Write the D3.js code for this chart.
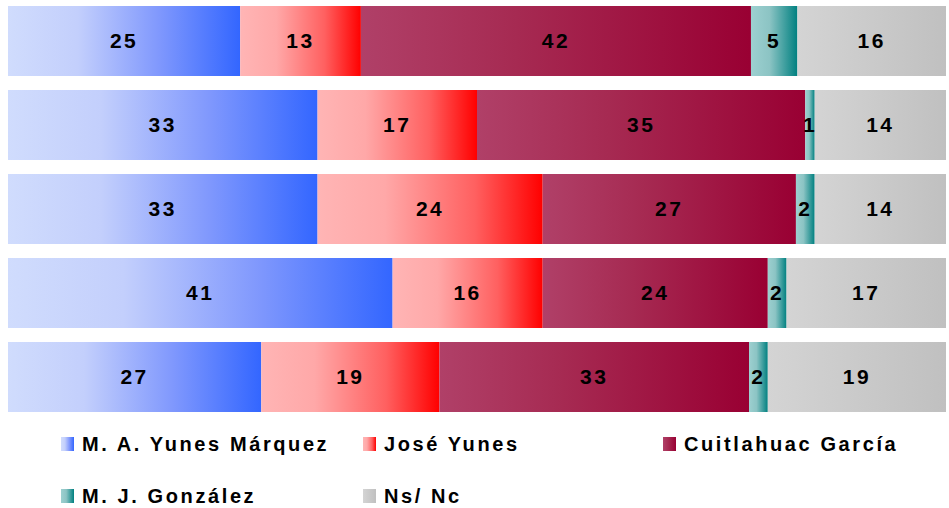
<!DOCTYPE html>
<html>
<head>
<meta charset="utf-8">
<script src="https://cdn.jsdelivr.net/npm/d3@7/dist/d3.min.js"></script>
<style>
  html, body { margin: 0; padding: 0; background: #fff; }
  svg { display: block; }
  text { font-family: "Liberation Sans", Arial, sans-serif; font-weight: bold; fill: #000; }
</style>
</head>
<body>
<svg id="chart" width="949" height="508"></svg>
<script>
// ---- data ----
const categories = ["1", "2", "3", "4", "5"];
const seriesNames = ["M. A. Yunes Márquez", "José Yunes", "Cuitlahuac García", "M. J. González", "Ns/ Nc"];
const yunesMarquez = [25, 33, 33, 41, 27];
const joseYunes    = [13, 17, 24, 16, 19];
const cuitlahuac   = [42, 35, 27, 24, 33];
const gonzalez     = [5, 1, 2, 2, 2];
const nsnc         = [16, 14, 14, 17, 19];

const seriesValues = [yunesMarquez, joseYunes, cuitlahuac, gonzalez, nsnc];
const keys = ["s0", "s1", "s2", "s3", "s4"];

// gradient stops per series (light -> dark, left to right)
const gradStops = [
  [[0, "#d0dcfd"], [0.3, "#c3cffc"], [0.65, "#8098fd"], [1, "#3366ff"]],
  [[0, "#ffb5b5"], [0.3, "#ffa8a8"], [0.7, "#ff6060"], [1, "#ff0000"]],
  [[0, "#b04068"], [0.4, "#a62a52"], [1, "#990033"]],
  [[0, "#9dd0d0"], [0.4, "#8cc4c4"], [1, "#008080"]],
  [[0, "#d4d4d4"], [1, "#c0c0c0"]]
];

// ---- build table ----
const table = categories.map((c, i) => {
  const row = { cat: c };
  const total = d3.sum(seriesValues, s => s[i]);
  keys.forEach((k, j) => { row[k] = seriesValues[j][i] / total; row[k + "_v"] = seriesValues[j][i]; });
  return row;
});

const svg = d3.select("#chart");
const defs = svg.append("defs");
gradStops.forEach((stops, j) => {
  const g = defs.append("linearGradient").attr("id", "g" + j)
    .attr("x1", "0").attr("x2", "1").attr("y1", "0").attr("y2", "0");
  stops.forEach(s => g.append("stop").attr("offset", s[0]).attr("stop-color", s[1]));
});

const x = d3.scaleLinear().domain([0, 1]).range([8, 946]);
const y = d3.scaleBand().domain(categories).range([6, 412]).paddingInner(14 / 84).paddingOuter(0);

const stack = d3.stack().keys(keys);
const stacked = stack(table);

const layers = svg.append("g").selectAll("g").data(stacked).join("g")
  .attr("fill", (d, j) => `url(#g${j})`);

layers.selectAll("rect").data(d => d.map(p => ({ p, key: d.key }))).join("rect")
  .attr("x", d => x(d.p[0]))
  .attr("width", d => x(d.p[1]) - x(d.p[0]))
  .attr("y", d => y(d.p.data.cat))
  .attr("height", y.bandwidth());

const labels = svg.append("g");
stacked.forEach((layer, j) => {
  layer.forEach(p => {
    labels.append("text")
      .attr("x", (x(p[0]) + x(p[1])) / 2)
      .attr("y", y(p.data.cat) + y.bandwidth() / 2)
      .attr("dy", "0.35em")
      .attr("text-anchor", "middle")
      .style("font-size", "21px")
      .style("letter-spacing", "2.5px")
      .attr("dx", "0px")
      .text(p.data[layer.key + "_v"]);
  });
});

// ---- legend ----
const legendPos = [[61, 437], [363, 437], [663, 437], [61, 489], [363, 489]];
const legend = svg.append("g");
seriesNames.forEach((name, j) => {
  const [lx, ly] = legendPos[j];
  legend.append("rect").attr("x", lx).attr("y", ly).attr("width", 13).attr("height", 14)
    .attr("fill", `url(#g${j})`);
  legend.append("text").attr("x", lx + 21).attr("y", ly + 14.3)
    .style("font-size", "20px")
    .style("letter-spacing", "2.6px")
    .text(name);
});
</script>
</body>
</html>
